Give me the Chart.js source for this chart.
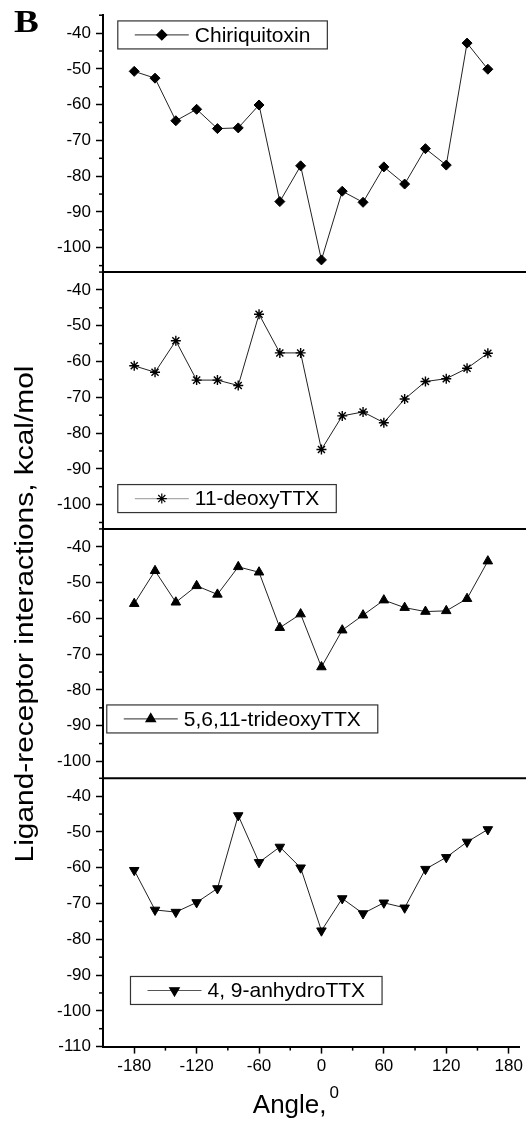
<!DOCTYPE html>
<html>
<head>
<meta charset="utf-8">
<script src="https://cdn.jsdelivr.net/npm/chart.js@4.4.0/dist/chart.umd.min.js"></script>
<style>
  body { margin: 0; background: #fff; }
  canvas { display: block; }
</style>
</head>
<body>
<canvas id="grafico" width="526" height="1124"></canvas>
<script>
// datos
const angulos = [-180, -160, -140, -120, -100, -80, -60, -40, -20, 0, 20, 40, 60, 80, 100, 120, 140, 160];
const chiriquitoxin = [-50.7, -52.6, -64.5, -61.3, -66.7, -66.5, -60.1, -87.1, -77.1, -103.4, -84.2, -87.3, -77.4, -82.2, -72.3, -76.9, -42.8, -50.1];
const deoxyTTX = [-61.2, -63.0, -54.2, -65.2, -65.2, -66.7, -46.8, -57.6, -57.6, -84.6, -75.2, -74.1, -77.1, -70.5, -65.6, -64.8, -61.9, -57.7];
const trideoxyTTX = [-55.9, -46.7, -55.5, -50.9, -53.3, -45.6, -47.1, -62.6, -58.8, -73.6, -63.3, -59.1, -54.9, -57.0, -58.1, -57.9, -54.5, -44.0];
const anhydroTTX = [-60.7, -71.8, -72.4, -69.7, -65.8, -45.4, -58.5, -54.2, -60.0, -77.6, -68.6, -72.8, -69.8, -71.2, -60.4, -57.1, -52.8, -49.3];
const nombres = ["Chiriquitoxin", "11-deoxyTTX", "5,6,11-trideoxyTTX", "4, 9-anhydroTTX"];

const ticksX = [-180, -120, -60, 0, 60, 120, 180];
const ticksXMenores = [-150, -90, -30, 30, 90, 150];
const ticksY = [-100, -90, -80, -70, -60, -50, -40];
const ticksYInferior = [-110, -100, -90, -80, -70, -60, -50, -40];
const ticksYMenores = [-105, -95, -85, -75, -65, -55, -45, -35];

const fuente = "'Liberation Sans', Arial, sans-serif";

// configuracion de cada panel (de arriba hacia abajo)
const paneles = [
  { id: "y1", serie: chiriquitoxin, min: -106.8, max: -35, ticks: ticksY, estilo: "rectRot", radio: 5, rotacion: 0,
    leyenda: { x: -195.8, y: -36.6, linea: "#555" } },
  { id: "y2", serie: deoxyTTX, min: -106.8, max: -35, ticks: ticksY, estilo: "star", radio: 5, rotacion: 0,
    leyenda: { x: -195.8, y: -94.4, linea: "#aaa" } },
  { id: "y3", serie: trideoxyTTX, min: -104.7, max: -35, ticks: ticksY, estilo: "triangle", radio: 5.5, rotacion: 0,
    leyenda: { x: -206.4, y: -84.2, linea: "#555" } },
  { id: "y4", serie: anhydroTTX, min: -110, max: -35, ticks: ticksYInferior, estilo: "triangle", radio: 5.5, rotacion: 180,
    leyenda: { x: -183.6, y: -90.4, linea: "#555" } }
];

const escalas = {
  x: {
    type: "linear",
    position: "bottom",
    min: -210,
    max: 190,
    afterBuildTicks: (eje) => { eje.ticks = ticksX.map(v => ({ value: v })); },
    ticks: { color: "#000", font: { family: fuente, size: 17 }, padding: 3, maxRotation: 0, autoSkip: false },
    grid: { drawOnChartArea: false, drawTicks: true, tickLength: 7, color: "#000", tickWidth: 1.5 },
    border: { color: "#000", width: 2 }
  }
};

paneles.forEach((p, i) => {
  escalas[p.id] = {
    type: "linear",
    position: "left",
    stack: "paneles",
    stackWeight: p.max - p.min,
    weight: paneles.length - i,
    min: p.min,
    max: p.max,
    afterBuildTicks: (eje) => { eje.ticks = p.ticks.map(v => ({ value: v })); },
    ticks: { color: "#000", font: { family: fuente, size: 17 }, padding: 5, autoSkip: false },
    grid: { drawOnChartArea: false, drawTicks: true, tickLength: 7, color: "#000", tickWidth: 1.5 },
    border: { color: "#000", width: 2 }
  };
});

const datasets = paneles.map((p, i) => ({
  label: nombres[i],
  data: angulos.map((a, k) => ({ x: a, y: p.serie[k] })),
  yAxisID: p.id,
  borderColor: "#222",
  borderWidth: 1,
  pointStyle: p.estilo,
  pointRadius: p.radio,
  pointRotation: p.rotacion,
  pointBackgroundColor: "#000",
  pointBorderColor: "#000",
  pointBorderWidth: p.estilo === "star" ? 1.4 : 1,
  tension: 0
}));

function dibujarMarcador(ctx, p, x, y) {
  const opciones = {
    pointStyle: p.estilo, radius: p.radio, rotation: p.rotacion, borderWidth: p.estilo === "star" ? 1.4 : 1
  };
  ctx.fillStyle = "#000";
  ctx.strokeStyle = "#000";
  if (Chart.helpers && Chart.helpers.drawPoint) {
    Chart.helpers.drawPoint(ctx, opciones, x, y);
  } else {
    ctx.fillRect(x - 4, y - 4, 8, 8);
  }
}

const decoracion = {
  id: "decoracion",
  afterDraw(chart) {
    const ctx = chart.ctx;
    const area = chart.chartArea;
    const ejeX = chart.scales.x;
    ctx.save();

    // ticks menores del eje x
    ctx.strokeStyle = "#000";
    ctx.lineWidth = 1.5;
    ticksXMenores.forEach(v => {
      const px = ejeX.getPixelForValue(v);
      ctx.beginPath();
      ctx.moveTo(px, area.bottom);
      ctx.lineTo(px, area.bottom + 4);
      ctx.stroke();
    });

    paneles.forEach((p, i) => {
      const eje = chart.scales[p.id];
      // ticks menores del eje y
      ctx.strokeStyle = "#000";
      ctx.lineWidth = 1.5;
      ticksYMenores.forEach(v => {
        if (v < p.min || v > p.max) return;
        const py = eje.getPixelForValue(v);
        ctx.beginPath();
        ctx.moveTo(area.left, py);
        ctx.lineTo(area.left - 4, py);
        ctx.stroke();
      });

      // separador entre paneles
      if (i > 0) {
        ctx.lineWidth = 2;
        ctx.beginPath();
        ctx.moveTo(area.left, eje.top);
        ctx.lineTo(chart.width, eje.top);
        ctx.stroke();
      }

      // leyenda dentro del panel
      const lx = ejeX.getPixelForValue(p.leyenda.x);
      const ly = eje.getPixelForValue(p.leyenda.y);
      ctx.font = "21px " + fuente;
      const ancho = 77 + ctx.measureText(nombres[i]).width + 17;
      const alto = 28;
      ctx.fillStyle = "#fff";
      ctx.fillRect(lx, ly, ancho, alto);
      ctx.strokeStyle = "#333";
      ctx.lineWidth = 1.2;
      ctx.strokeRect(lx, ly, ancho, alto);
      ctx.strokeStyle = p.leyenda.linea;
      ctx.lineWidth = 1.2;
      ctx.beginPath();
      ctx.moveTo(lx + 17, ly + alto / 2);
      ctx.lineTo(lx + 71, ly + alto / 2);
      ctx.stroke();
      dibujarMarcador(ctx, p, lx + 44, ly + alto / 2);
      ctx.fillStyle = "#000";
      ctx.textBaseline = "middle";
      ctx.textAlign = "left";
      ctx.fillText(nombres[i], lx + 77, ly + alto / 2 + 1);
    });

    // titulo del eje y
    ctx.save();
    ctx.translate(33, 614);
    ctx.scale(1, 1.15);
    ctx.rotate(-Math.PI / 2);
    ctx.fillStyle = "#000";
    ctx.font = "26px " + fuente;
    ctx.textAlign = "center";
    ctx.textBaseline = "alphabetic";
    ctx.fillText("Ligand-receptor interactions, kcal/mol", 0, 0);
    ctx.restore();

    // titulo del eje x
    ctx.fillStyle = "#000";
    ctx.textAlign = "left";
    ctx.textBaseline = "alphabetic";
    ctx.font = "26px " + fuente;
    const tx = ejeX.getPixelForValue(-66);
    ctx.fillText("Angle,", tx, 1113);
    const anchoTitulo = ctx.measureText("Angle,").width;
    ctx.font = "17px " + fuente;
    ctx.fillText("0", tx + anchoTitulo + 3, 1098);

    // letra del panel
    ctx.save();
    ctx.translate(14, 32);
    ctx.scale(1.2, 1);
    ctx.font = "bold 31px 'Liberation Serif', 'Times New Roman', serif";
    ctx.fillText("B", 0, 0);
    ctx.restore();

    ctx.restore();
  }
};

new Chart(document.getElementById("grafico").getContext("2d"), {
  type: "line",
  data: { datasets: datasets },
  options: {
    responsive: false,
    animation: false,
    layout: { padding: { top: 11, left: 52, right: 6, bottom: 44 } },
    plugins: { legend: { display: false }, tooltip: { enabled: false } },
    scales: escalas
  },
  plugins: [decoracion]
});
</script>
</body>
</html>
